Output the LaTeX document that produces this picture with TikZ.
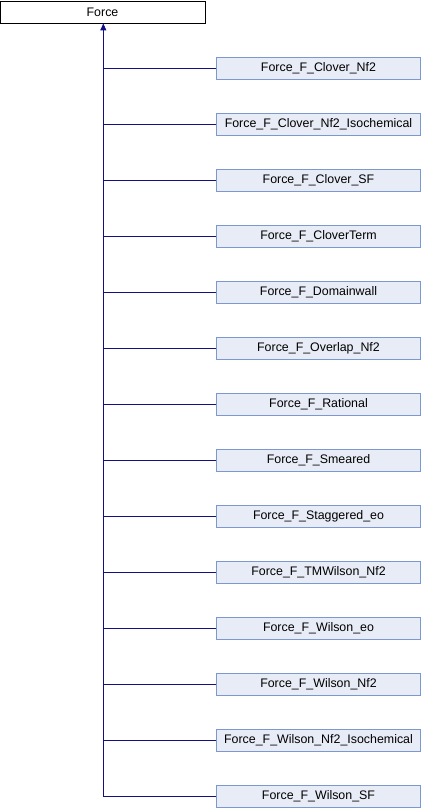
\documentclass[tikz,border=0pt]{standalone}
\usepackage{fontspec}
\setmainfont{Liberation Sans}
\usetikzlibrary{arrows.meta}
\definecolor{boxfill}{HTML}{E8ECF6}
\definecolor{boxline}{HTML}{7C98D0}
\definecolor{edgecol}{HTML}{101080}
\begin{document}
\begin{tikzpicture}[x=1pt,y=-1pt,
  basebox/.style={draw=black,fill=white,line width=0.9pt,minimum width=205pt,minimum height=22pt,inner sep=0pt,font=\fontsize{12.4}{14}\selectfont},
  childbox/.style={draw=boxline,fill=boxfill,line width=0.9pt,minimum width=204pt,minimum height=22pt,inner sep=0pt,font=\fontsize{12.4}{14}\selectfont},
  edge/.style={draw=edgecol,line width=0.9pt}]
\useasboundingbox (0,0) rectangle (422,808);
\node[basebox] (force) at (102.5,12) {Force};
\coordinate (top) at (103.3,23);
\foreach \name [count=\i from 0] in {Force\_F\_Clover\_Nf2,Force\_F\_Clover\_Nf2\_Isochemical,Force\_F\_Clover\_SF,Force\_F\_CloverTerm,Force\_F\_Domainwall,Force\_F\_Overlap\_Nf2,Force\_F\_Rational,Force\_F\_Smeared,Force\_F\_Staggered\_eo,Force\_F\_TMWilson\_Nf2,Force\_F\_Wilson\_eo,Force\_F\_Wilson\_Nf2,Force\_F\_Wilson\_Nf2\_Isochemical,Force\_F\_Wilson\_SF}{
  \node[childbox] (c\i) at (318.5,{68+56*\i}) {\name};
  \coordinate (j\i) at (103.3,{68+56*\i});
  \draw[edge] (c\i.west) -- (j\i);
}
\draw[edge,-{Triangle[length=7pt,width=6pt]}] (j13) -- (force.south -| top);
\end{tikzpicture}
\end{document}
